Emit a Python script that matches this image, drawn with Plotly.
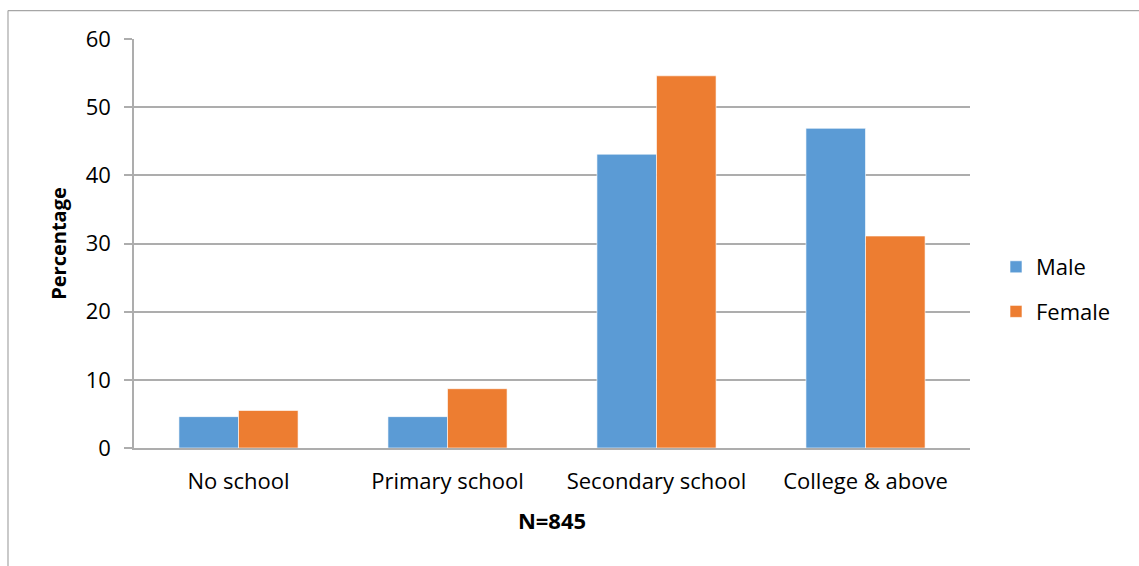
import plotly.graph_objects as go

# Education level by sex (percent of respondents)
categories = ["No school", "Primary school", "Secondary school", "College & above"]
male_pct = [4.6, 4.6, 43.1, 46.9]
female_pct = [5.5, 8.7, 54.6, 31.1]
y_ticks = [0, 10, 20, 30, 40, 50, 60]

FONT = "Open Sans"
GRID = "#ADADAD"
FS = 22

# plot-area geometry in pixels
W, H = 1139, 566
L, R, T, B = 134, 970, 38.5, 448.5
pw, ph = R - L, B - T

def px_x(p):
    return (p - L) / pw

def px_y(p):
    return (B - p) / ph

fig = go.Figure()
fig.add_trace(go.Bar(
    name="Male", x=categories, y=male_pct,
    marker=dict(color="#5B9BD5", line=dict(color="rgba(255,255,255,0.6)", width=1)),
    legendgroup="m",
))
fig.add_trace(go.Bar(
    name="Female", x=categories, y=female_pct,
    marker=dict(color="#ED7D31", line=dict(color="rgba(255,255,255,0.6)", width=1)),
    legendgroup="f",
))

fig.update_layout(
    width=W, height=H,
    margin=dict(l=L, r=W - R, t=T, b=H - B, autoexpand=False),
    paper_bgcolor="white", plot_bgcolor="white",
    font=dict(family=FONT, size=FS, color="#000000"),
    barmode="group", bargap=0.43, bargroupgap=0,
    legend=dict(
        x=px_x(996), y=px_y(246), xanchor="left", yanchor="top",
        font=dict(size=FS), tracegroupgap=13, itemwidth=30,
        traceorder="grouped", bgcolor="rgba(0,0,0,0)",
    ),
    xaxis=dict(
        showgrid=False, showline=True, linecolor=GRID, linewidth=1.5,
        ticks="", tickfont=dict(size=FS), ticklabelstandoff=13,
        title=dict(text="<b>N=845</b>", font=dict(size=FS), standoff=19),
    ),
    yaxis=dict(
        range=[0, 60], tickvals=y_ticks, showgrid=True, gridcolor=GRID, gridwidth=1.5,
        showline=True, linecolor=GRID, linewidth=1.5,
        ticks="outside", ticklen=8, tickcolor=GRID, tickwidth=1.5,
        tickfont=dict(size=FS), ticklabelstandoff=9, zeroline=False,
        title=dict(text="<b>Percentage</b>", font=dict(size=FS - 2), standoff=14),
    ),
    shapes=[
        dict(type="line", xref="paper", yref="paper",
             x0=px_x(8), x1=px_x(8), y0=px_y(10), y1=px_y(600),
             line=dict(color="#A6A6A6", width=1.2)),
        dict(type="line", xref="paper", yref="paper",
             x0=px_x(8), x1=px_x(1200), y0=px_y(10), y1=px_y(10),
             line=dict(color="#A6A6A6", width=1.2)),
    ],
)

fig.write_html("out.html")
